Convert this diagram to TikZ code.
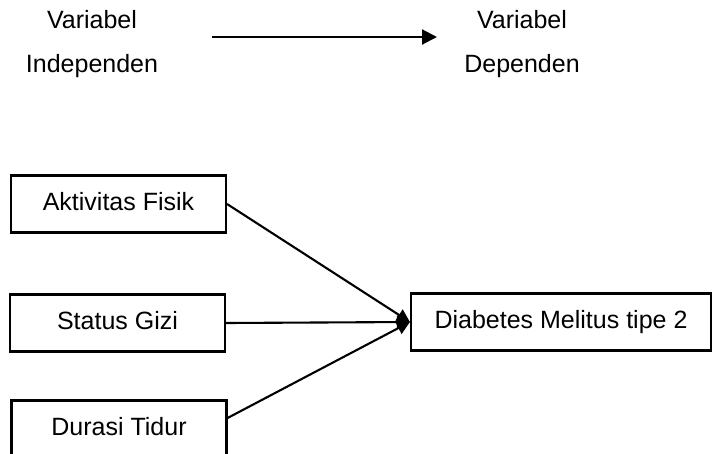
\documentclass[tikz,border=0pt]{standalone}
\usepackage{fontspec}
\setmainfont{Liberation Sans}
\usetikzlibrary{arrows.meta}
\tikzset{
  kotak/.style = {rectangle, draw, line width=2.1pt, minimum width=215pt, minimum height=57pt, inner sep=0pt, text height=18pt, text depth=5pt},
  panah/.style = {line width=2.1pt, -{Triangle[length=13pt,width=13pt]}},
  ket/.style   = {anchor=base, inner sep=0pt}
}

\begin{document}
\begin{tikzpicture}[x=1pt, y=-1pt, font=\fontsize{25}{30}\selectfont]

  \clip (0,0) rectangle (712,453);

  % keterangan atas
  \node[ket] (v1)  at ( 92,28) {Variabel};
  \node[ket] (ind) at ( 92,72) {Independen};
  \node[ket] (v2)  at (522,28) {Variabel};
  \node[ket] (dep) at (522,72) {Dependen};
  \coordinate (p1) at (212,37);
  \coordinate (p2) at (437,37);
  \draw[panah, -{Triangle[length=15pt,width=15pt]}] (p1) -- (p2);

  % variabel independen
  \node[kotak] (af) at (118.5,204) {Aktivitas Fisik};
  \node[kotak] (sg) at (117.5,323) {Status Gizi};
  \node[kotak] (dt) at (119.0,429) {Durasi Tidur};

  % variabel dependen
  \node[kotak, minimum width=300pt] (dm) at (561,322) {Diabetes Melitus tipe 2};

  \draw[panah] (af.east) -- (dm.west);
  \draw[panah] (sg.east) -- (dm.west);
  \draw[panah] ([yshift=11pt]dt.east) -- (dm.west);

\end{tikzpicture}
\end{document}
